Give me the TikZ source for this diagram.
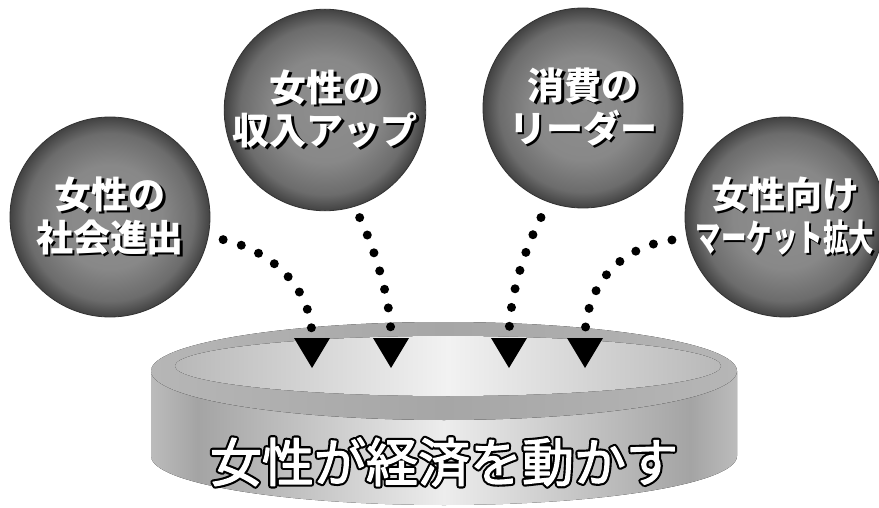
\documentclass[tikz,border=0pt]{standalone}
\usepackage{fontspec}
\usepackage{graphicx}
\newfontfamily\jp{Noto Sans CJK JP}
\usetikzlibrary{arrows.meta}
\definecolor{ballc}{HTML}{8E8E8E}
\definecolor{ballb}{HTML}{888888}
\definecolor{ballm}{HTML}{6C6C6C}
\definecolor{balle}{HTML}{424242}
\definecolor{sideL}{HTML}{BCBCBC}
\definecolor{sideD}{HTML}{A4A4A4}
\definecolor{sideM}{HTML}{EDEDED}
\definecolor{rimE}{HTML}{B6B6B6}
\definecolor{rimM}{HTML}{A6A6A6}
\definecolor{inE}{HTML}{B8B8B8}
\definecolor{inM}{HTML}{F2F2F2}
\pgfdeclareradialshading{ballshade}{\pgfpointorigin}{color(0bp)=(ballc); color(13bp)=(ballb); color(21bp)=(ballm); color(25bp)=(balle); color(50bp)=(balle)}
\pgfdeclarehorizontalshading{sideshade}{100bp}{color(0bp)=(sideL); color(25bp)=(sideL); color(29bp)=(sideD); color(50bp)=(sideM); color(71bp)=(sideD); color(75bp)=(sideL); color(100bp)=(sideL)}
\newcommand\shtxt[1]{\leavevmode\rlap{\kern2.5pt\raisebox{-2.5pt}{\textcolor{black}{#1}}}\textcolor{white}{#1}}
\newcommand\outltxt[1]{\leavevmode\rlap{\special{pdf:literal direct 0 g 0 G 2 Tr 5.5 w 1 j}#1}\special{pdf:literal direct 1 g 1 G 2 Tr 1.2 w 1 j}#1\special{pdf:literal direct 0 g 0 G 0 Tr 0.4 w 0 j}}
\begin{document}
\begin{tikzpicture}[x=1pt,y=-1pt,
  ball/.style={circle, minimum size=200pt, inner sep=0pt, shading=ballshade, draw=black!80, line width=0.8pt,
    font=\jp\bfseries\fontsize{37}{43}\selectfont, align=center},
  dotline/.style={line width=9pt, line cap=round, dash pattern=on 0pt off 19pt,
    -{Triangle[width=36pt,length=30pt,line width=0pt]}},
  bigtext/.style={font=\jp\fontsize{52}{52}\selectfont, inner sep=0pt}
]
\useasboundingbox (0,0) rectangle (879,508);
\fill[white] (0,0) rectangle (879,508);
% cylinder
\fill[shading=sideshade]
  (151,371) -- (151,456) arc[start angle=180, end angle=0, x radius=293, y radius=49] -- (737,371) -- cycle;
\fill[left color=rimE, right color=rimE, middle color=rimM] (444,371) ellipse[x radius=293, y radius=49];
\fill[left color=inE, right color=inE, middle color=inM] (448,366) ellipse[x radius=273, y radius=30];
\node[bigtext] (main) at (444,462) {\outltxt{女性が経済を動かす}};
% balls
\node[ball] (c1) at (110,217) {\shtxt{女性の}\\\shtxt{社会進出}};
\node[ball] (c2) at (325,110) {\shtxt{女性の}\\\shtxt{収入アップ}};
\node[ball] (c3) at (583,108) {\shtxt{消費の}\\\shtxt{リーダー}};
\node[ball] (c4) at (785,217) {\shtxt{女性向け}\\\scalebox{0.69}[1]{\shtxt{マーケット拡大}}};
% arrow ends
\coordinate (e1) at (312,368);
\coordinate (e2) at (391,368);
\coordinate (e3) at (509,368);
\coordinate (e4) at (585,368);
\draw[dotline, shorten <=15pt] (c1.-11) .. controls (275,252) and (312,290) .. (e1);
\draw[dotline, shorten <=12pt] (c2.-73) .. controls (375,250) and (391,300) .. (e2);
\draw[dotline, shorten <=17pt] (c3.-110) .. controls (522,255) and (509,300) .. (e3);
\draw[dotline, shorten <=15pt] (c4.192) .. controls (615,248) and (585,290) .. (e4);
\end{tikzpicture}
\end{document}
